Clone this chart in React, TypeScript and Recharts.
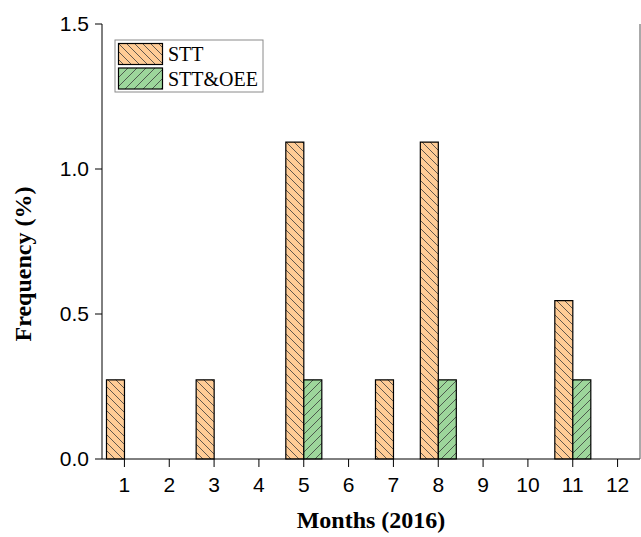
import { BarChart, Bar, XAxis, YAxis } from "recharts";

const months = ["1", "2", "3", "4", "5", "6", "7", "8", "9", "10", "11", "12"];
const sttValues = [0.273, null, 0.273, null, 1.093, null, 0.273, 1.093, null, null, 0.546, null];
const sttOeeValues = [null, null, null, null, 0.273, null, null, 0.273, null, null, 0.273, null];
const yTicks = [0, 0.5, 1.0, 1.5];

const SERIES = [
  { key: "STT", name: "STT", fill: "url(#hatchSTT)" },
  { key: "STTOEE", name: "STT&OEE", fill: "url(#hatchOEE)" },
];

const data = months.map((m, i) => ({
  month: m,
  STT: sttValues[i],
  STTOEE: sttOeeValues[i],
}));

const SANS = "'Liberation Sans', Arial, sans-serif";
const SERIF = "'Liberation Serif', 'Times New Roman', serif";

function Patterns() {
  return (
    <defs>
      <pattern id="hatchSTT" patternUnits="userSpaceOnUse" width="8" height="8">
        <rect width="8" height="8" fill="#FFCC96" />
        <path d="M0,0 L8,8 M-1,7 L1,9 M7,-1 L9,1" stroke="#3a3a3a" strokeWidth="0.8" />
      </pattern>
      <pattern id="hatchOEE" patternUnits="userSpaceOnUse" width="9" height="9">
        <rect width="9" height="9" fill="#9DD69B" />
        <path d="M0,9 L9,0 M-1,1 L1,-1 M8,10 L10,8" stroke="#3a3a3a" strokeWidth="0.8" />
      </pattern>
    </defs>
  );
}

function LegendBox() {
  return (
    <svg
      width={152}
      height={56}
      style={{ position: "absolute", left: 113, top: 38, overflow: "visible" }}
    >
      <Patterns />
      <rect x={2} y={2} width={148} height={52} fill="#fff" stroke="#8a8a8a" strokeWidth={1} />
      {SERIES.map((s, i) => (
        <g key={s.key}>
          <rect
            x={5.5}
            y={5.5 + i * 24.5}
            width={44}
            height={21}
            fill={s.fill}
            stroke="#000"
            strokeWidth={1.2}
          />
          <text x={55} y={23 + i * 24.5} fontFamily={SERIF} fontSize={20} fill="#000">
            {s.name}
          </text>
        </g>
      ))}
    </svg>
  );
}

export default function App() {
  return (
    <div style={{ position: "absolute", left: 0, top: 0, width: 641, height: 537, background: "#fff" }}>
      <BarChart
        width={641}
        height={537}
        data={data}
        margin={{ top: 24, right: 0, bottom: 0, left: 0 }}
        barCategoryGap="10%"
        barGap={0}
      >
        <XAxis
          xAxisId="top"
          dataKey="month"
          orientation="top"
          height={0}
          tick={false}
          tickLine={false}
          axisLine={{ stroke: "#222", strokeWidth: 1 }}
        />
        <XAxis
          xAxisId="main"
          dataKey="month"
          height={78}
          tickSize={8}
          tickMargin={10}
          tickLine={{ stroke: "#000", strokeWidth: 1 }}
          axisLine={{ stroke: "#000", strokeWidth: 1 }}
          tick={{ fontFamily: SANS, fontSize: 21, fill: "#000" }}
          interval={0}
          label={{
            content: (props: any) => {
              const vb = props.viewBox;
              return (
                <text
                  x={vb.x + vb.width / 2}
                  y={528}
                  textAnchor="middle"
                  fontFamily={SERIF}
                  fontWeight="bold"
                  fontSize={24}
                  fill="#000"
                >
                  Months (2016)
                </text>
              );
            },
          }}
        />
        <YAxis
          yAxisId="left"
          width={102}
          domain={[0, 1.5]}
          ticks={yTicks}
          tickFormatter={(v: number) => v.toFixed(1)}
          tickSize={7}
          tickMargin={6}
          tickLine={{ stroke: "#000", strokeWidth: 1 }}
          axisLine={{ stroke: "#000", strokeWidth: 1 }}
          tick={{ fontFamily: SANS, fontSize: 21, fill: "#000" }}
          label={{
            content: () => (
              <text
                x={31}
                y={264}
                transform="rotate(-90, 31, 264)"
                textAnchor="middle"
                fontFamily={SERIF}
                fontWeight="bold"
                fontSize={24}
                fill="#000"
              >
                Frequency (%)
              </text>
            ),
          }}
        />
        <YAxis
          yAxisId="right"
          orientation="right"
          width={1}
          domain={[0, 1.5]}
          tick={false}
          tickLine={false}
          axisLine={{ stroke: "#555", strokeWidth: 1 }}
        />
        {SERIES.map((s) => (
          <Bar
            key={s.key}
            dataKey={s.key}
            name={s.name}
            xAxisId="main"
            yAxisId="left"
            fill={s.fill}
            stroke="#000"
            strokeWidth={1.2}
            isAnimationActive={false}
          />
        ))}
      </BarChart>
      <LegendBox />
    </div>
  );
}
